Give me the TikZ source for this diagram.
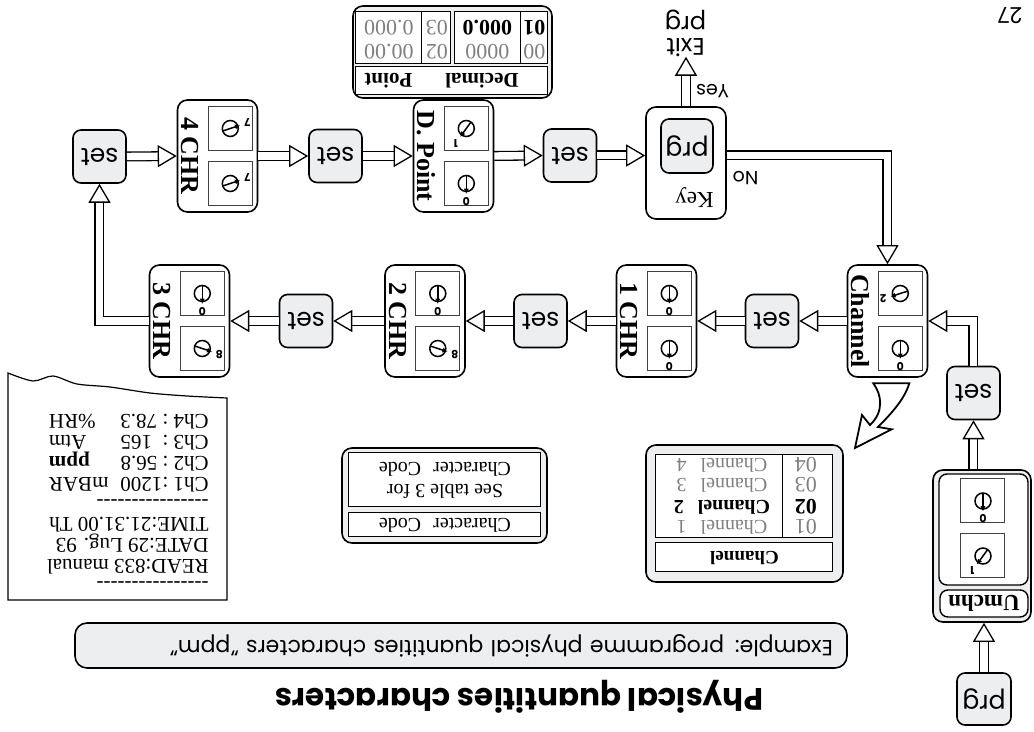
\documentclass[tikz,border=0pt]{standalone}
\usepackage{fontspec}
\setmainfont{Liberation Serif}
\setsansfont{Poppins}
\newfontfamily\ticketfont{Liberation Serif}
\usetikzlibrary{arrows.meta,calc}
\definecolor{keygray}{RGB}{237,238,240}
\definecolor{offgray}{RGB}{128,128,128}

\tikzset{
  setkey/.style={draw, line width=0.8pt, rounded corners=4pt, fill=keygray,
    minimum width=26.5pt, minimum height=26.5pt, inner sep=0pt,
    font=\sffamily\fontsize{12.5}{13}\selectfont},
  stepbox/.style={draw, line width=0.8pt, rounded corners=5pt,
    minimum width=40pt, minimum height=56pt, inner sep=0pt},
  dialbox/.style={draw=black!75, line width=0.5pt, minimum size=22pt, inner sep=0pt},
  steplabel/.style={rotate=90, inner sep=0pt, font=\bfseries\fontsize{13}{14}\selectfont},
  digit/.style={inner sep=0pt, font=\sffamily\bfseries\fontsize{5.5}{6}\selectfont},
  pointer/.style={line width=0.75pt, -{Latex[length=2.6pt, width=2.6pt]}},
  hollow/.style={line width=0.65pt, double=white, double distance=3.7pt,
    -{Triangle[open, fill=white, width=11pt, length=9.5pt, line width=0.65pt]}},
  panel/.style={draw, line width=0.8pt, rounded corners=4pt, fill=keygray, inner sep=0pt},
  cell/.style={draw, line width=0.5pt, fill=white, inner sep=0pt},
  flowtext/.style={inner sep=0pt, font=\sffamily\fontsize{9.5}{10}\selectfont},
  rowtext/.style={inner sep=0pt, font=\fontsize{10}{11}\selectfont},
}

% rotary switch in a square node: #1 node, #2 digit
\newcommand{\dial}[2]{%
  \draw[line width=0.75pt] (#1.center) circle (4pt);
  \draw[pointer] ($(#1.center)+({270-36*#2}:4pt)$) -- ($(#1.center)+({90-36*#2}:5.2pt)$);
  \node[digit] (#1-d) at ($(#1.center)+({90-36*#2}:9pt)$) {#2};}

% step with two switches: name, x, y, label, upper digit, lower digit
\newcommand{\chrbox}[6]{%
  \node[stepbox] (#1) at (#2,#3) {};
  \node[dialbox] (#1-a) at ($(#1.west)+(28,27.5)$) {};
  \node[dialbox] (#1-b) at ($(#1.west)+(28,-27.5)$) {};
  \node[steplabel] (#1-t) at ($(#1.east)+(-13.5,0)$) {#4};
  \dial{#1-a}{#5}\dial{#1-b}{#6}}

\begin{document}
\begin{tikzpicture}[x=0.5pt, y=0.5pt, rotate=180, transform shape]
    \fill[white] (0,0) rectangle (1034,732);
    \useasboundingbox (0,0) rectangle (1034,732);

    % Title and example
    \node[inner sep=0pt, font=\sffamily\bfseries\fontsize{15.5}{16}\selectfont] (title) at (515,697) {Physical quantities characters};
    \node[panel, rounded corners=6pt, minimum height=22.5pt, text width=372pt, inner xsep=7pt, align=left,
        font=\sffamily\fontsize{11}{12}\selectfont] (example) at (573,645.5) {Example: programme physical quantities characters "ppm"};
    \node[flowtext, font=\sffamily\fontsize{11}{12}\selectfont] (page) at (24,16) {27};

    % Start and unit channel
    \node[setkey, minimum width=27pt, minimum height=26pt] (prg0) at (50,699) {prg};
    \node[panel, rounded corners=5pt, minimum width=49pt, minimum height=76pt] (umchn) at (52,546) {};
    \node[cell, line width=0.7pt, rounded corners=4pt, minimum width=44pt, minimum height=13.5pt,
        font=\bfseries\fontsize{11.5}{12}\selectfont] (umchn-t) at (50,603.5) {Umchn};
    \node[cell, line width=0.7pt, rounded corners=4pt, minimum width=44.5pt, minimum height=55.5pt] (umchn-in) at (50.5,529.5) {};
    \node[dialbox] (umchn-a) at (51,556) {};
    \node[dialbox] (umchn-b) at (51,501) {};
    \dial{umchn-a}{1}\dial{umchn-b}{0}

    % Upper row
    \node[setkey] (set1) at (60.5,393) {set};
    \chrbox{chan}{146.5}{321}{Channel}{0}{2}
    \node[setkey] (set2) at (262,321) {set};
    \chrbox{chr1}{377.5}{321}{1 CHR}{0}{0}
    \node[setkey] (set3) at (493.5,321) {set};
    \chrbox{chr2}{609}{321}{2 CHR}{8}{0}
    \node[setkey] (set4) at (728,321) {set};
    \chrbox{chr3}{844.5}{321}{3 CHR}{8}{0}

    % Lower row
    \node[setkey] (set5) at (934.5,156.5) {set};
    \chrbox{chr4}{816.5}{156}{4 CHR}{7}{7}
    \node[setkey] (set6) at (698.5,156) {set};
    \chrbox{dp}{580.5}{156}{D. Point}{0}{1}
    \node[setkey] (set7) at (464,155.5) {set};
    \node[stepbox] (key) at (348,163) {};
    \node[setkey, minimum width=26pt, minimum height=27pt] (keyprg) at (347,146) {prg};
    \node[inner sep=0pt, font=\fontsize{11.5}{12}\selectfont] (key-t) at (339.5,197.5) {Key};
    \node[flowtext, font=\sffamily\fontsize{12}{11}\selectfont, align=center] (exit) at (348.5,33) {Exit\\prg};
    \node[flowtext] (yes) at (321.5,91.5) {Yes};
    \node[flowtext] (no) at (288.5,178.5) {No};

    % Connectors
    \draw[hollow] (prg0.south) -- (prg0.south |- umchn.north);
    \draw[hollow] (umchn.south -| set1.north) -- (set1.north);
    \draw[hollow] (set1.south) |- (chan.west);
    \draw[hollow] (chan.east) -- (set2.west);
    \draw[hollow] (set2.east) -- (chr1.west);
    \draw[hollow] (chr1.east) -- (set3.west);
    \draw[hollow] (set3.east) -- (chr2.west);
    \draw[hollow] (chr2.east) -- (set4.west);
    \draw[hollow] (set4.east) -- (chr3.west);
    \draw[hollow] (chr3.east) -| (set5.north);
    \draw[hollow] (set5.west) -- (chr4.east);
    \draw[hollow] (chr4.west) -- (set6.east);
    \draw[hollow] (set6.west) -- (dp.east);
    \draw[hollow] (dp.west) -- (set7.east);
    \draw[hollow] (set7.west) -- (set7.west -| key.east);
    \draw[hollow] (key.south) -- (key.south |- exit.north);
    \draw[hollow] (key.west |- set7.west) -| (chan.south);

    % Callout to channel table
    \draw[line width=0.9pt, fill=white] (160.7,383.3) .. controls (152,395) and (150,412) .. (164,425)
        -- (172,415) -- (179,448) -- (142.3,429.3) -- (156,427)
        .. controls (141,412) and (129,398) .. (124.7,383.3) -- cycle;

    % Channel table
    \node[panel, rounded corners=5pt, minimum width=98.5pt, minimum height=68.5pt] (chantab) at (289.5,513.5) {};
    \node[cell, minimum width=88.5pt, minimum height=14.5pt, font=\bfseries\fontsize{9.5}{10}\selectfont] (chantab-h) at (289.5,557.5) {Channel};
    \node[cell, minimum width=88.5pt, minimum height=41.5pt] (chantab-l) at (289.5,496.5) {};
    \draw[line width=0.5pt] (251,455) -- (251,538);
    \foreach \n/\v in {1/527, 3/485, 4/465} {
        \node[rowtext, text=offgray, font=\fontsize{11}{11}\selectfont] (code\n) at (228,\v) {0\n};
        \node[rowtext, text=offgray] (name\n) at (312,\v) {Channel\hspace{7pt}\n};
    }
    \node[rowtext, font=\bfseries\fontsize{11}{11}\selectfont] (code2) at (228,507) {02};
    \node[rowtext, font=\bfseries\fontsize{10}{11}\selectfont] (name2) at (312,507) {Channel\hspace{7pt}2};

    % Character code table
    \node[panel, rounded corners=5pt, minimum width=102.5pt, minimum height=47.5pt] (chartab) at (589.5,495.5) {};
    \node[cell, minimum width=96pt, minimum height=12pt, font=\fontsize{10}{11}\selectfont] (chartab-h) at (589,525) {Character\hspace{6pt}Code};
    \node[cell, minimum width=96pt, minimum height=27pt, align=center, font=\fontsize{10}{11}\selectfont] (chartab-b) at (589,480) {See table 3 for\\Character\hspace{6pt}Code};

    % Decimal point table
    \node[panel, rounded corners=5pt, minimum width=99.5pt, minimum height=46pt] (dptab) at (581.5,52) {};
    \node[cell, minimum width=96pt, minimum height=14pt] (dptab-h) at (582,81) {};
    \node[rowtext, font=\bfseries\fontsize{10.5}{11}\selectfont] (dptab-h1) at (552,81) {Decimal};
    \node[rowtext, font=\bfseries\fontsize{10.5}{11}\selectfont] (dptab-h2) at (645.5,81) {Point};
    \node[cell, minimum width=46.5pt, minimum height=26pt] (dptab-a) at (532.5,38) {};
    \node[cell, minimum width=47.5pt, minimum height=26pt] (dptab-b) at (630.5,38) {};
    \draw[line width=0.5pt] (513,12) -- (513,64);
    \draw[line width=0.5pt] (612,12) -- (612,64);
    \node[rowtext, text=offgray, font=\fontsize{11}{11}\selectfont] (dp00) at (499.5,52) {00};
    \node[rowtext, font=\bfseries\fontsize{11}{11}\selectfont] (dp01) at (499.5,28) {01};
    \node[rowtext, text=offgray, font=\fontsize{11}{11}\selectfont] (dpv0) at (546.5,52) {0000};
    \node[rowtext, font=\bfseries\fontsize{11}{11}\selectfont] (dpv1) at (546.5,28) {000.0};
    \node[rowtext, text=offgray, font=\fontsize{11}{11}\selectfont] (dp02) at (597,52) {02};
    \node[rowtext, text=offgray, font=\fontsize{11}{11}\selectfont] (dp03) at (597,28) {03};
    \node[rowtext, text=offgray, font=\fontsize{11}{11}\selectfont] (dpv2) at (645,52) {00.00};
    \node[rowtext, text=offgray, font=\fontsize{11}{11}\selectfont] (dpv3) at (645,28) {0.000};

    % Printer ticket
    \draw[line width=0.6pt, fill=white] (807,600) -- (1026,600) -- (1026,373)
        -- plot[smooth] coordinates {(1026,373) (1001,381) (981,376) (957,384) (924,387) (884,393) (847,396) (807,398)}
        -- cycle;
    \node[inner sep=0pt, anchor=north west, font=\ticketfont\fontsize{10.5}{10.6}\selectfont] (ticket) at (825,593) {%
        \begin{tabular}{@{}l@{}r@{\hspace{6pt}}r@{}}
        \multicolumn{3}{@{}l@{}}{----------------}\\[-1.5pt]
        \multicolumn{3}{@{}l@{}}{\makebox[0pt][l]{READ:833 manual}}\\
        \multicolumn{3}{@{}l@{}}{\makebox[0pt][l]{DATE:29 Lug. 93}}\\
        \multicolumn{3}{@{}l@{}}{\makebox[0pt][l]{TIME:21.31.00 Th}}\\
        \multicolumn{3}{@{}l@{}}{----------------}\\[-1.5pt]
        Ch1 :&1200&mBAR\\
        Ch2 :& 56.8&\textbf{ppm}\\
        Ch3 :& 165&Atm\\
        Ch4 :& 78.3&\%RH
        \end{tabular}};
\end{tikzpicture}
\end{document}
